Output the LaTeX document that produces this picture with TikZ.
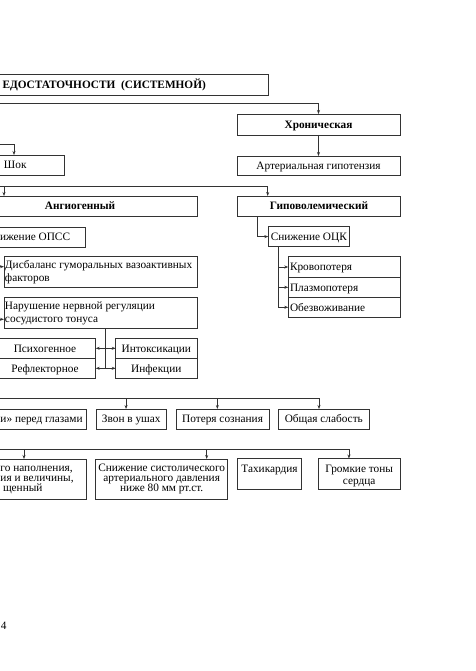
\documentclass[tikz,border=0pt]{standalone}
\usepackage{fontspec}
\setmainfont{Liberation Serif}
\usetikzlibrary{arrows.meta,calc}
\newcommand\bbox[5]{\node[box, anchor=north west, minimum width={(#4)-(#2)}, minimum height={(#5)-(#3)}] (#1) at (#2,#3) {};}
\begin{document}
\begin{tikzpicture}[x=1pt,y=-1pt,
  every node/.style={font=\fontsize{11.3}{13}\selectfont, inner sep=0pt, outer sep=0pt},
  box/.style={draw=black!80, line width=0.7pt, rectangle},
  ln/.style={draw=black!80, line width=0.7pt},
  arr/.style={ln, -{Stealth[length=4pt,width=3pt]}},
  darr/.style={ln, {Stealth[length=4pt,width=3pt]}-{Stealth[length=4pt,width=3pt]}},
  bf/.style={font=\fontsize{11.3}{13}\selectfont\bfseries},
  tx/.style={anchor=base},
  txl/.style={anchor=base west},
  txr/.style={anchor=base east},
]
\useasboundingbox (0,0) rectangle (475,671);
\clip (0,0) rectangle (475,671);
% boxes
\bbox{top}{-20}{74}{268}{95}
\bbox{chron}{237}{114}{400}{135}
\bbox{art}{237}{156}{400}{175}
\bbox{shok}{-36}{155}{64}{175}
\bbox{angio}{-37}{196}{197}{216}
\bbox{hypo}{237.3}{196}{400.7}{216}
\bbox{opss}{-40}{227}{85.7}{247}
\bbox{ock}{268.3}{226.5}{349.3}{246.7}
\bbox{krov}{288.3}{256.7}{400.7}{277.3}
\bbox{plaz}{288.3}{277.3}{400.7}{297.3}
\bbox{obez}{288.3}{297.3}{400.7}{317.3}
\bbox{disb}{4}{256.7}{197}{287.3}
\bbox{nar}{4}{297.3}{197}{328.3}
\bbox{psy}{-5}{338.3}{95.7}{358.3}
\bbox{refl}{-5}{358.3}{95.7}{378.3}
\bbox{intox}{115.7}{338.3}{197}{358.3}
\bbox{inf}{115.7}{358.3}{197}{378.3}
\bbox{glaz}{-60}{409}{86}{429.3}
\bbox{zvon}{96}{409}{166.7}{429.3}
\bbox{poter}{176}{409}{269.3}{429.3}
\bbox{obsh}{278.3}{409}{369.3}{429.3}
\bbox{puls}{-60}{459}{86}{499}
\bbox{sniz}{95.7}{459}{227.7}{499}
\bbox{tahi}{237.3}{458.5}{301.7}{489.3}
\bbox{grom}{318.3}{458.5}{400}{489.3}
% texts
\node[bf, txl] (topt) at (2.5,88.3) {ЕДОСТАТОЧНОСТИ\ \ (СИСТЕМНОЙ)};
\node[bf, tx] (chront) at (318.5,128.3) {Хроническая};
\node[tx] (artt) at (318.5,169.3) {Артериальная гипотензия};
\node[txl] (shokt) at (4,168.5) {Шок};
\node[bf, tx] (angiot) at (80,209.8) {Ангиогенный};
\node[bf, tx] (hypot) at (319,209.8) {Гиповолемический};
\node[txl] (opsst) at (0,240.8) {ижение ОПСС};
\node[tx] (ockt) at (308.8,240.4) {Снижение ОЦК};
\node[txl] (krovt) at (290,270.8) {Кровопотеря};
\node[txl] (plazt) at (290,291.1) {Плазмопотеря};
\node[txl] (obezt) at (290,311.1) {Обезвоживание};
\node[txl] (disb1) at (5,268.8) {Дисбаланс гуморальных вазоактивных};
\node[txl] (disb2) at (5,281.5) {факторов};
\node[txl] (nar1) at (5,309.5) {Нарушение нервной регуляции};
\node[txl] (nar2) at (5,322.2) {сосудистого тонуса};
\node[tx] (psyt) at (45,352.1) {Психогенное};
\node[tx] (reflt) at (45,372.1) {Рефлекторное};
\node[tx] (intoxt) at (156.3,352.1) {Интоксикации};
\node[tx] (inft) at (156.3,372.1) {Инфекции};
\node[txl] (glazt) at (0.5,422.9) {и» перед глазами};
\node[tx] (zvont) at (131.3,422.9) {Звон в ушах};
\node[tx] (potert) at (222.6,422.9) {Потеря сознания};
\node[tx] (obsht) at (323.8,422.9) {Общая слабость};
\node[txl] (puls1) at (0.5,471.2) {го наполнения,};
\node[txl] (puls2) at (0.5,481.5) {ия и величины,};
\node[txl] (puls3) at (3,491.5) {щенный};
\node[tx] (sniz1) at (161.7,471.2) {Снижение систолического};
\node[tx] (sniz2) at (161.7,481.5) {артериального давления};
\node[tx] (sniz3) at (161.7,491.5) {ниже 80 мм рт.ст.};
\node[tx] (tahit) at (269.5,472.5) {Тахикардия};
\node[tx] (grom1) at (359.2,472.5) {Громкие тоны};
\node[tx] (grom2) at (359.2,484.2) {сердца};
\node[txl] (pagenum) at (1,629) {4};
% connectors
\coordinate (b1) at (-5,103.7);
\draw[arr] (b1) -| (chron.north);
\draw[arr] (chron.south) -- (art.north);
\coordinate (s1) at (-5,144);
\draw[arr] (s1) -| (shok.north);
\coordinate (b2) at (-5,186.7);
\coordinate (a1) at (4,186.7);
\draw[arr] (a1) -- (a1 |- angio.north);
\coordinate (h1) at ([xshift=-51.3pt]hypo.north);
\draw[arr] (b2) -| (h1);
\coordinate (h2) at ([xshift=-61.3pt]hypo.south);
\draw[arr] (h2) |- (ock.west);
\coordinate (v3) at ([xshift=-30.5pt]ock.south);
\draw[arr] (v3) |- (krov.west);
\draw[arr] (v3) |- (plaz.west);
\draw[arr] (v3) |- (obez.west);
\coordinate (d1) at (-5,266.7);
\draw[arr] (d1) -- (d1 -| disb.west);
\coordinate (n1) at (-5,319.3);
\draw[arr] (n1) -- (n1 -| nar.west);
\coordinate (nv) at ([xshift=5.2pt]nar.south);
\draw[ln] (nv) -- (nv |- refl.east);
\draw[darr] (psy.east) -- (intox.west);
\draw[darr] (refl.east) -- (inf.west);
\coordinate (b3) at (-5,398.3);
\coordinate (o1) at ([xshift=-4.8pt]obsh.north);
\draw[arr] (b3) -| (o1);
\coordinate (z1) at ([xshift=-5.3pt]zvon.north);
\draw[arr] (z1 |- b3) -- (z1);
\coordinate (p1) at ([xshift=-5.3pt]poter.north);
\draw[arr] (p1 |- b3) -- (p1);
\coordinate (b4) at (-5,449.3);
\coordinate (g1) at ([xshift=-10.2pt]grom.north);
\draw[arr] (b4) -| (g1);
\coordinate (q1) at (24,459);
\draw[arr] (q1 |- b4) -- (q1 |- puls.north);
\coordinate (q2) at ([xshift=45pt]sniz.north);
\draw[arr] (q2 |- b4) -- (q2);
\end{tikzpicture}
\end{document}
